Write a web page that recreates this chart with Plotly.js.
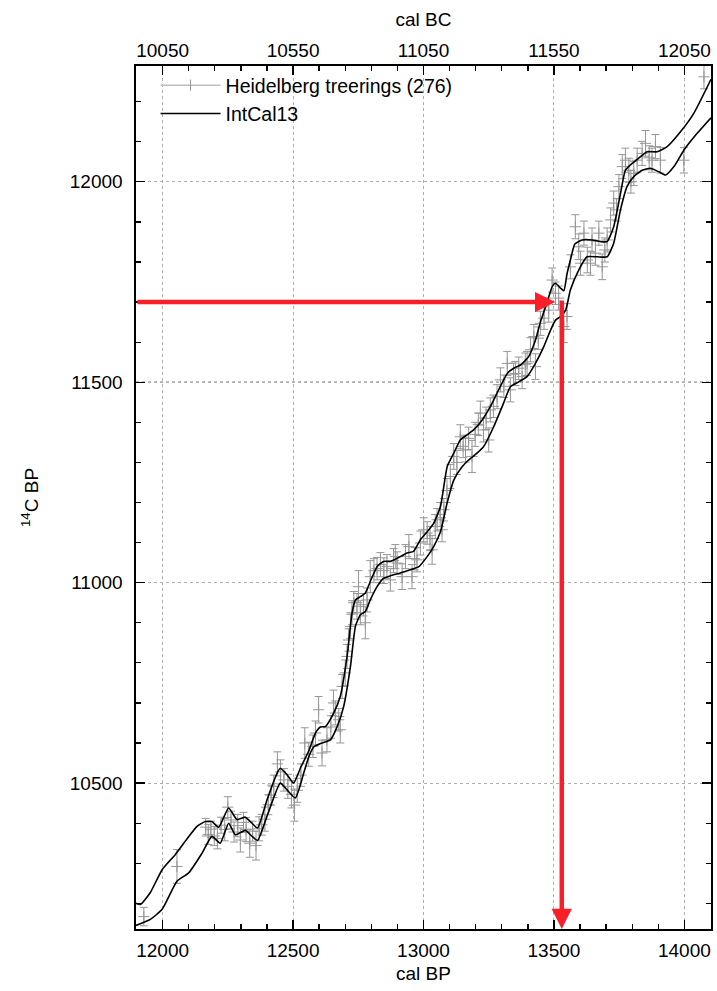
<!DOCTYPE html>
<html>
<head>
<meta charset="utf-8">
<script src="https://cdn.plot.ly/plotly-3.0.1.min.js"></script>
<style>html,body{margin:0;padding:0;background:#fff;}#chart{width:717px;height:991px;}</style>
</head>
<body>
<div id="chart"></div>
<script>
// Heidelberg treerings: cal BP, 14C BP, 1-sigma error
var treeBP = [11928,12055,12165,12175,12185,12198,12210,12224,12238,12250,12262,12274,12288,12298,12310,12320,12334,12345,12358,12370,12380,12392,12405,12416,12426,12440,12452,12465,12480,12494,12505,12516,12530,12545,12560,12576,12586,12598,12611,12630,12645,12655,12662,12675,12681,12688,12700,12707,12713,12720,12726,12733,12745,12751,12758,12770,12777,12784,12796,12810,12822,12835,12848,12860,12873,12885,12892,12899,12918,12931,12944,12956,12966,12975,12988,13001,13014,13025,13033,13045,13052,13064,13071,13078,13090,13103,13116,13128,13141,13152,13161,13173,13186,13198,13210,13218,13230,13240,13250,13256,13268,13282,13295,13308,13321,13333,13345,13352,13365,13378,13390,13397,13410,13423,13429,13440,13448,13462,13480,13493,13506,13518,13538,13550,13563,13582,13595,13602,13615,13628,13640,13646,13659,13672,13685,13695,13704,13717,13729,13740,13749,13762,13774,13787,13795,13806,13819,13838,13851,13865,13876,13889,13908,13998,14075];
var treeC14 = [10167,10292,10390,10372,10385,10368,10362,10395,10384,10440,10408,10378,10394,10358,10402,10384,10350,10380,10344,10386,10396,10410,10446,10470,10492,10548,10528,10508,10492,10472,10445,10482,10520,10600,10572,10592,10625,10683,10575,10608,10640,10700,10675,10658,10633,10741,10775,10816,10857,10891,10925,10950,10941,10990,10925,10945,10900,10957,11015,11030,11035,11045,11030,11040,11007,11055,11065,11049,11015,11065,11090,11015,11060,11057,11099,11132,11124,11110,11082,11140,11157,11170,11132,11182,11230,11265,11315,11300,11364,11340,11331,11360,11315,11370,11395,11423,11381,11410,11356,11431,11440,11464,11506,11490,11547,11481,11520,11522,11535,11514,11545,11547,11581,11614,11539,11610,11647,11660,11680,11755,11722,11710,11639,11664,11788,11888,11838,11797,11872,11805,11797,11855,11822,11872,11788,11830,11855,11905,11947,11930,11988,12038,12054,12029,12000,12021,12054,12071,12096,12060,12054,12088,12054,12054,12262];
var treeErr = [23,42,22,25,20,24,26,20,28,26,22,25,28,30,25,30,35,25,36,30,26,30,25,25,28,30,30,28,30,34,40,30,28,38,30,28,30,33,32,30,28,32,30,28,33,30,32,30,28,30,30,28,32,40,30,28,40,30,40,30,28,30,32,30,28,30,30,28,32,30,30,30,28,30,30,30,28,30,36,30,28,30,30,28,30,30,32,30,30,28,30,28,40,30,28,30,30,28,30,30,28,30,30,28,30,30,28,30,28,30,28,30,30,30,32,28,30,28,30,30,28,30,40,32,30,30,32,30,30,32,30,30,30,30,32,30,30,30,30,28,30,30,30,30,28,30,30,30,32,30,30,30,32,32,30];

// IntCal13 1-sigma envelope: upper and lower curves
var upperBP = [11898,11915,11953,11998,12049,12081,12132,12164,12189,12215,12253,12285,12317,12336,12364,12400,12439,12451,12477,12502,12528,12560,12586,12605,12624,12656,12681,12707,12726,12739,12758,12777,12796,12822,12847,12873,12911,12937,12962,12988,13014,13039,13065,13091,13116,13141,13167,13192,13225,13256,13288,13321,13346,13372,13403,13429,13448,13474,13493,13506,13525,13538,13550,13565,13580,13608,13646,13678,13704,13729,13755,13774,13800,13825,13857,13896,13934,13985,14036,14102];
var upperC14 = [10200,10197,10227,10284,10322,10350,10392,10404,10404,10390,10438,10409,10415,10404,10388,10458,10525,10537,10521,10500,10537,10580,10625,10640,10641,10675,10716,10816,10924,10957,10965,10974,11003,11040,11053,11053,11065,11074,11078,11107,11127,11148,11190,11290,11323,11356,11369,11381,11406,11439,11481,11522,11535,11543,11564,11605,11650,11700,11738,11747,11735,11728,11770,11810,11845,11855,11855,11851,11851,11888,11971,12029,12046,12059,12075,12075,12088,12125,12171,12256];
var lowerBP = [11898,11953,11998,12055,12100,12151,12189,12221,12253,12279,12317,12343,12364,12400,12451,12477,12509,12541,12560,12579,12611,12643,12669,12694,12720,12739,12758,12777,12796,12822,12847,12873,12911,12949,12982,13014,13039,13065,13091,13116,13148,13173,13205,13230,13269,13307,13333,13365,13397,13429,13461,13487,13506,13525,13545,13563,13595,13627,13666,13704,13729,13755,13780,13806,13838,13870,13902,13928,13960,13998,14049,14102];
var lowerC14 = [10145,10160,10185,10255,10276,10325,10367,10350,10400,10371,10382,10367,10357,10417,10500,10483,10463,10525,10565,10590,10600,10608,10641,10691,10791,10891,10920,10928,10957,10990,11011,11017,11024,11032,11040,11065,11090,11127,11200,11256,11289,11306,11323,11339,11389,11448,11489,11501,11514,11547,11589,11630,11655,11664,11680,11730,11780,11813,11813,11813,11847,11930,11988,12013,12029,12034,12025,12017,12038,12079,12121,12160];

// Calibration example: measured 14C age and resulting calendar age
var exampleC14 = 11700;
var exampleBP = 13530;
var bcOffset = 1950; // cal BC = cal BP - 1950

var xMin = 11898, xMax = 14102, yMin = 10136, yMax = 12289;

var grey = 'rgb(150,150,150)';
var red = 'rgb(250,30,40)';
var fontFam = '"Liberation Sans", Arial, Helvetica, sans-serif';

var traces = [
  {
    x: treeBP, y: treeC14, type: 'scatter', mode: 'markers',
    name: 'Heidelberg treerings (276)', showlegend: false,
    marker: {symbol: 'cross-thin-open', size: 8, color: grey, line: {color: grey, width: 1}},
    error_y: {type: 'data', array: treeErr, visible: true, color: grey, thickness: 1, width: 4},
    hoverinfo: 'x+y'
  },
  {
    x: [null], y: [null], type: 'scatter', mode: 'lines+markers',
    name: 'Heidelberg treerings (276)',
    line: {color: 'rgb(190,190,190)', width: 1.5},
    marker: {symbol: 'line-ns-open', size: 8, color: grey, line: {color: grey, width: 1}}
  },
  {
    x: upperBP, y: upperC14, type: 'scatter', mode: 'lines', name: 'IntCal13',
    line: {color: '#000', width: 1.6, shape: 'spline', smoothing: 0.5}, legendgroup: 'ic'
  },
  {
    x: lowerBP, y: lowerC14, type: 'scatter', mode: 'lines', name: 'IntCal13', showlegend: false,
    line: {color: '#000', width: 1.6, shape: 'spline', smoothing: 0.5}, legendgroup: 'ic'
  },
  {
    x: [xMin - bcOffset, xMax - bcOffset], y: [yMin, yMin], xaxis: 'x2', type: 'scatter', mode: 'none',
    showlegend: false, hoverinfo: 'skip'
  }
];

var axisFont = {family: fontFam, size: 19, color: '#000'};
var gridColor = 'rgb(175,175,175)';

var layout = {
  width: 717, height: 991,
  margin: {l: 136, r: 6, t: 66, b: 62, pad: 0},
  paper_bgcolor: '#fff', plot_bgcolor: '#fff',
  font: {family: fontFam, size: 19, color: '#000'},
  showlegend: true,
  legend: {x: 0.034, y: 1.0, xanchor: 'left', yanchor: 'top', bgcolor: 'rgba(0,0,0,0)',
           font: {family: fontFam, size: 19.5}, itemwidth: 60, tracegroupgap: 0},
  xaxis: {
    range: [xMin, xMax], tickmode: 'linear', tick0: 12000, dtick: 500, tickformat: 'd',
    ticks: 'inside', ticklen: 9, tickwidth: 1.3, tickcolor: '#000',
    minor: {ticks: 'inside', ticklen: 5, tickwidth: 1.3, tickcolor: '#000', dtick: 100, tick0: 12000, showgrid: false},
    showline: true, linecolor: '#000', linewidth: 1.6, mirror: 'ticks',
    showgrid: true, gridcolor: gridColor, gridwidth: 1, griddash: 'dot',
    zeroline: false, tickfont: axisFont, ticklabelstandoff: 4,
    title: {text: 'cal BP', font: axisFont, standoff: 6}
  },
  xaxis2: {
    overlaying: 'x', side: 'top', anchor: 'y',
    range: [xMin - bcOffset, xMax - bcOffset], tickmode: 'linear', tick0: 10050, dtick: 500, tickformat: 'd',
    ticks: '', showline: false, showgrid: false, zeroline: false, tickfont: axisFont, ticklabelstandoff: 4,
    title: {text: 'cal BC', font: axisFont, standoff: 8}
  },
  yaxis: {
    range: [yMin, yMax], tickmode: 'linear', tick0: 10500, dtick: 500, tickformat: 'd',
    ticks: 'inside', ticklen: 9, tickwidth: 1.3, tickcolor: '#000',
    minor: {ticks: 'inside', ticklen: 5, tickwidth: 1.3, tickcolor: '#000', dtick: 100, tick0: 10500, showgrid: false},
    showline: true, linecolor: '#000', linewidth: 1.6, mirror: 'ticks',
    showgrid: true, gridcolor: gridColor, gridwidth: 1, griddash: 'dot',
    zeroline: false, tickfont: axisFont, ticklabelstandoff: 8,
    title: {text: '<sup>14</sup>C BP', font: axisFont, standoff: 26}
  },
  shapes: [
    {type: 'line', xref: 'paper', yref: 'y', x0: 0, x1: 1, y0: 11500, y1: 11500,
     line: {color: '#000', width: 1, dash: 'dot'}, layer: 'below'}
  ],
  annotations: [
    {x: exampleBP - 25, y: exampleC14, ax: xMin, ay: exampleC14, xref: 'x', yref: 'y', axref: 'x', ayref: 'y',
     text: '', showarrow: true, arrowhead: 2, arrowsize: 0.9, arrowwidth: 4.5, arrowcolor: red, standoff: 0},
    {x: exampleBP, y: yMin, ax: exampleBP, ay: exampleC14 + 8, xref: 'x', yref: 'y', axref: 'x', ayref: 'y',
     text: '', showarrow: true, arrowhead: 2, arrowsize: 0.9, arrowwidth: 4.5, arrowcolor: red, standoff: 0}
  ]
};

Plotly.newPlot('chart', traces, layout, {displayModeBar: false, staticPlot: true});
</script>
</body>
</html>
